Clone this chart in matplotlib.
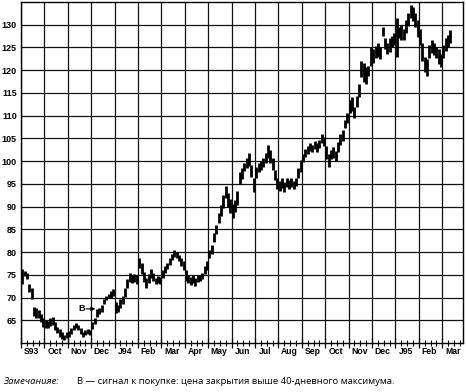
import numpy as np
import matplotlib
matplotlib.use("Agg")
import matplotlib.pyplot as plt
import matplotlib.transforms as mtransforms

# ---------------- data ----------------
month_labels = ["S93", "Oct", "Nov", "Dec", "J94", "Feb", "Mar", "Apr", "May",
                "Jun", "Jul", "Aug", "Sep", "Oct", "Nov", "Dec", "J95", "Feb", "Mar"]
bars_in_month = [10] * 18 + [4]

highs = [
    76.2, 75.8, 75.5, 73.0, 72.0, 68.0, 67.6, 67.2, 66.4, 65.4,        # Sep 93
    65.0, 64.8, 65.4, 65.8, 64.6, 63.6, 63.0, 62.4, 61.8, 62.4,        # Oct
    62.6, 63.4, 64.0, 64.4, 64.0, 63.2, 62.4, 62.8, 63.0, 62.8,        # Nov
    64.6, 65.6, 67.4, 67.8, 68.4, 69.6, 70.4, 70.8, 71.4, 71.8,        # Dec
    69.0, 68.4, 69.6, 70.4, 72.0, 74.0, 75.4, 75.0, 75.2, 75.0,        # Jan 94
    78.8, 77.6, 75.6, 74.2, 75.2, 76.2, 75.4, 74.4, 74.8, 74.6,        # Feb
    76.0, 77.0, 77.6, 78.8, 79.6, 80.4, 80.0, 79.4, 78.8, 78.0,        # Mar
    76.0, 75.0, 74.6, 75.0, 74.4, 75.0, 75.0, 75.4, 77.0, 78.0,        # Apr
    80.4, 81.6, 84.2, 86.0, 88.6, 90.4, 92.6, 94.6, 93.0, 91.6,        # May
    90.6, 91.4, 93.4, 97.6, 98.4, 99.6, 100.6, 101.8, 99.2, 96.2,      # Jun
    98.6, 99.6, 100.0, 100.6, 101.8, 103.6, 102.4, 100.6, 98.0, 96.2,  # Jul
    95.6, 96.2, 95.4, 96.4, 95.8, 96.4, 95.6, 96.2, 98.4, 100.2,       # Aug
    101.6, 102.6, 103.4, 104.0, 103.6, 104.4, 104.0, 104.6, 106.0, 105.4,  # Sep
    103.4, 101.6, 102.4, 103.0, 102.2, 104.2, 106.0, 106.8, 109.0, 110.6,  # Oct
    113.4, 114.0, 112.0, 114.4, 117.0, 122.0, 121.6, 120.6, 121.0, 125.0,  # Nov
    124.6, 125.4, 126.0, 125.0, 129.6, 127.0, 126.0, 127.0, 127.6, 128.2,  # Dec
    131.4, 129.6, 130.0, 129.0, 131.0, 132.6, 134.4, 134.0, 132.6, 131.0,  # Jan 95
    129.0, 126.0, 123.0, 122.4, 125.6, 126.6, 126.0, 125.0, 124.6, 123.6,  # Feb
    125.6, 127.0, 127.8, 128.8,                                            # Mar
]
lows = [
    73.0, 74.8, 74.0, 71.2, 69.6, 66.0, 65.6, 65.4, 64.6, 63.6,
    63.4, 63.2, 63.8, 64.0, 62.8, 62.2, 61.4, 60.8, 60.6, 61.0,
    61.4, 62.0, 62.8, 63.2, 62.8, 62.0, 61.4, 61.8, 62.0, 61.8,
    63.0, 64.2, 65.8, 66.4, 66.8, 68.6, 69.4, 69.8, 70.0, 70.4,
    66.6, 66.8, 67.8, 68.6, 70.2, 72.0, 73.4, 73.2, 73.4, 73.0,
    76.4, 75.2, 73.4, 72.0, 73.2, 74.2, 73.6, 73.0, 73.2, 73.0,
    74.4, 75.4, 76.2, 77.2, 78.2, 79.0, 78.6, 78.0, 77.0, 76.0,
    73.6, 73.2, 72.8, 73.2, 72.6, 73.4, 73.6, 74.0, 75.2, 76.0,
    78.8, 79.6, 82.2, 84.0, 86.4, 88.0, 89.6, 91.8, 90.0, 88.6,
    87.4, 88.8, 90.4, 95.0, 96.0, 97.8, 98.4, 99.0, 96.6, 93.2,
    96.4, 97.6, 98.0, 98.8, 99.6, 100.6, 99.6, 98.0, 95.8, 93.8,
    93.4, 94.0, 93.2, 94.4, 93.8, 94.4, 93.8, 94.6, 96.2, 97.6,
    99.8, 100.8, 101.6, 102.2, 102.0, 102.6, 102.0, 102.8, 104.0, 103.4,
    100.4, 98.8, 100.4, 100.6, 100.0, 102.0, 103.6, 104.4, 107.2, 108.4,
    110.6, 111.0, 109.4, 111.8, 114.0, 118.6, 117.4, 117.0, 118.8, 121.0,
    121.6, 122.6, 123.0, 122.4, 127.6, 124.6, 123.6, 124.0, 125.0, 125.6,
    122.8, 127.0, 126.6, 126.6, 128.2, 129.8, 131.4, 130.8, 129.4, 127.4,
    125.6, 122.0, 119.6, 118.8, 122.6, 123.8, 123.4, 122.6, 121.4, 120.6,
    122.6, 124.2, 125.2, 126.0,
]
y_ticks = [65, 70, 75, 80, 85, 90, 95, 100, 105, 110, 115, 120, 125, 130]
signal_label = "B"
signal_price = 67.5
note_title = "Замечанияе:"
note_text = "B — сигнал к покупке: цена закрытия выше 40-дневного максимума."

# ---------------- figure ----------------
W, H = 466, 392
fig = plt.figure(figsize=(W / 100, H / 100), dpi=100)
ax = fig.add_axes([21 / W, 1 - 343 / H, (463 - 21) / W, (343 - 2) / H])

# bar x positions (trading time, months as units)
xs = []
for mi, n in enumerate(bars_in_month):
    for i in range(n):
        xs.append(mi + (i + 0.5) / 10)
xs = np.array(xs)

ax.vlines(xs, lows, highs, color="black", lw=2.0)

ax.set_xlim(0, (463 - 21) / 23.4)
ax.set_ylim(60, 135)

# grid
ax.set_yticks(y_ticks)
ax.set_yticklabels([str(v) for v in y_ticks])
ax.set_xticks(np.arange(0, 19))
ax.set_xticklabels([])
ax.set_xticks(np.arange(0, 19, 0.25), minor=True)
ax.grid(True, which="major", color="#111111", lw=0.9)
ax.set_axisbelow(True)

ax.tick_params(axis="y", length=0, pad=3, labelsize=6.5)
for lab in ax.get_yticklabels():
    lab.set_fontfamily("Liberation Sans")
    lab.set_fontweight("bold")
ax.tick_params(axis="x", which="major", direction="inout", length=7, width=0.9)
ax.tick_params(axis="x", which="minor", direction="inout", length=5, width=0.8)
for s in ax.spines.values():
    s.set_linewidth(1.0)
    s.set_color("black")

# month labels
trans = mtransforms.blended_transform_factory(ax.transData, ax.transAxes)
off = mtransforms.ScaledTranslation(0, -8.7 / 100, fig.dpi_scale_trans)
for i, lab in enumerate(month_labels):
    ax.text(i + 0.45, 0, lab, transform=trans + off, ha="center", va="center",
            fontsize=6.2, fontweight="bold", family="Liberation Sans")

# buy-signal annotation
ax.annotate("", xy=(3.18, signal_price), xytext=(2.78, signal_price),
            arrowprops=dict(arrowstyle="-|>", color="black", lw=0.8,
                            mutation_scale=6, shrinkA=0, shrinkB=0))
ax.text(2.6, signal_price, signal_label, ha="center", va="center",
        fontsize=6.5, fontweight="bold", family="Liberation Sans")

# note
fig.text(3 / W, 1 - 382 / H, note_title, ha="left", va="center",
         fontsize=6.8, style="italic", family="Open Sans")
fig.text(77 / W, 1 - 382 / H, note_text, ha="left", va="center",
         fontsize=6.8, family="Open Sans")

fig.savefig("out.png", dpi=100)
